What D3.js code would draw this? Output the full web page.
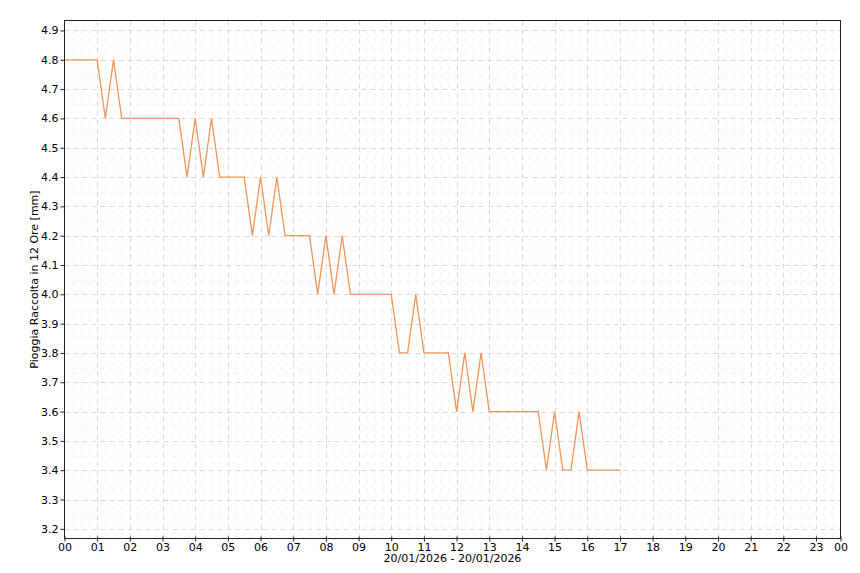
<!DOCTYPE html>
<html>
<head>
<meta charset="utf-8">
<script src="https://cdn.jsdelivr.net/npm/d3@7"></script>
<style>
  body { margin: 0; background: #fff; }
  svg { display: block; }
  text { font-family: "DejaVu Sans", sans-serif; }
</style>
</head>
<body>
<svg id="chart" width="860" height="573"></svg>
<script>
// ---- data (hours of day, values in mm) ----
const times = [
  "00:00","00:15","00:30","00:45","01:00","01:15","01:30","01:45",
  "02:00","02:15","02:30","02:45","03:00","03:15","03:30","03:45",
  "04:00","04:15","04:30","04:45","05:00","05:15","05:30","05:45",
  "06:00","06:15","06:30","06:45","07:00","07:15","07:30","07:45",
  "08:00","08:15","08:30","08:45","09:00","09:15","09:30","09:45",
  "10:00","10:15","10:30","10:45","11:00","11:15","11:30","11:45",
  "12:00","12:15","12:30","12:45","13:00","13:15","13:30","13:45",
  "14:00","14:15","14:30","14:45","15:00","15:15","15:30","15:45",
  "16:00","16:15","16:30","16:45","17:00"
];
const rain = [
  4.8,4.8,4.8,4.8,4.8,4.6,4.8,4.6,
  4.6,4.6,4.6,4.6,4.6,4.6,4.6,4.4,
  4.6,4.4,4.6,4.4,4.4,4.4,4.4,4.2,
  4.4,4.2,4.4,4.2,4.2,4.2,4.2,4.0,
  4.2,4.0,4.2,4.0,4.0,4.0,4.0,4.0,
  4.0,3.8,3.8,4.0,3.8,3.8,3.8,3.8,
  3.6,3.8,3.6,3.8,3.6,3.6,3.6,3.6,
  3.6,3.6,3.6,3.4,3.6,3.4,3.4,3.6,
  3.4,3.4,3.4,3.4,3.4
];
const xTickLabels = ["00","01","02","03","04","05","06","07","08","09","10","11",
                     "12","13","14","15","16","17","18","19","20","21","22","23","00"];
const yTickValues = [3.2,3.3,3.4,3.5,3.6,3.7,3.8,3.9,4.0,4.1,4.2,4.3,4.4,4.5,4.6,4.7,4.8,4.9];
const xDomain = [0, 23.75];
const yDomain = [3.167, 4.934];
const yTitle = "Pioggia Raccolta in 12 Ore [mm]";
const xTitle = "20/01/2026 - 20/01/2026";

// ---- layout ----
const svg = d3.select("#chart");
const mLeft = 64.5, mRight = 840.5, mTop = 20.5, mBottom = 538.5;
const toHours = s => { const [h, m] = s.split(":").map(Number); return h + m / 60; };
const data = times.map((t, i) => ({ x: toHours(t), y: rain[i] }));

const x = d3.scaleLinear().domain(xDomain).range([mLeft, mRight]);
const y = d3.scaleLinear().domain(yDomain).range([mBottom, mTop]);

// tick positions from labels: hour index, last one at domain end
const xTickValues = xTickLabels.map((l, i) => i < xTickLabels.length - 1 ? i : xDomain[1]);

const grid = svg.append("g");
// minor vertical (quarter hours)
const minorX = d3.range(0, xDomain[1] + 0.001, 0.25).filter(v => Math.abs(v - Math.round(v)) > 0.01);
grid.selectAll(".mvx").data(minorX).enter().append("line")
  .attr("x1", d => Math.round(x(d)) + 0.5).attr("x2", d => Math.round(x(d)) + 0.5)
  .attr("y1", mTop).attr("y2", mBottom)
  .attr("stroke", "#f2f2f2").attr("stroke-dasharray", "4,5");
// minor horizontal (half steps)
const minorY = d3.range(3.15, 4.95, 0.1).map(v => +v.toFixed(2)).filter(v => v > yDomain[0] && v < yDomain[1]);
grid.selectAll(".mhy").data(minorY).enter().append("line")
  .attr("x1", mLeft).attr("x2", mRight)
  .attr("y1", d => Math.round(y(d)) + 0.5).attr("y2", d => Math.round(y(d)) + 0.5)
  .attr("stroke", "#f2f2f2").attr("stroke-dasharray", "4,5");
// major vertical
grid.selectAll(".vx").data(xTickValues.slice(1, -1)).enter().append("line")
  .attr("x1", d => Math.round(x(d)) + 0.5).attr("x2", d => Math.round(x(d)) + 0.5)
  .attr("y1", mTop).attr("y2", mBottom)
  .attr("stroke", "#dadada").attr("stroke-dasharray", "5,4");
// major horizontal
grid.selectAll(".hy").data(yTickValues).enter().append("line")
  .attr("x1", mLeft).attr("x2", mRight)
  .attr("y1", d => Math.round(y(d)) + 0.5).attr("y2", d => Math.round(y(d)) + 0.5)
  .attr("stroke", "#dadada").attr("stroke-dasharray", "5,4");

// data line
svg.append("path").datum(data)
  .attr("fill", "none")
  .attr("stroke", "#f3955a")
  .attr("stroke-width", 1.3)
  .attr("d", d3.line().x(d => x(d.x)).y(d => y(d.y)));

// frame
svg.append("rect").attr("x", mLeft).attr("y", mTop)
  .attr("width", mRight - mLeft).attr("height", mBottom - mTop)
  .attr("fill", "none").attr("stroke", "#222").attr("stroke-width", 1);

// axes
const xAxis = d3.axisBottom(x).tickValues(xTickValues)
  .tickFormat((d, i) => xTickLabels[i]).tickSize(4).tickPadding(1);
const gx = svg.append("g").attr("transform", `translate(0,${mBottom})`).call(xAxis);
gx.select(".domain").remove();
gx.selectAll("line").attr("stroke", "#222").attr("y1", -2).attr("y2", 3);
gx.selectAll("text").attr("font-size", 11).attr("fill", "#000")
  .attr("font-family", "DejaVu Sans, sans-serif");

const yAxis = d3.axisLeft(y).tickValues(yTickValues)
  .tickFormat(d3.format(".1f")).tickSize(4).tickPadding(2);
const gy = svg.append("g").attr("transform", `translate(${mLeft},0)`).call(yAxis);
gy.select(".domain").remove();
gy.selectAll("line").attr("stroke", "#222");
gy.selectAll("text").attr("font-size", 11).attr("fill", "#000")
  .attr("font-family", "DejaVu Sans, sans-serif");

// titles
svg.append("text")
  .attr("transform", `translate(38,${(mTop + mBottom) / 2}) rotate(-90)`)
  .attr("text-anchor", "middle").attr("font-size", 11).attr("fill", "#000")
  .text(yTitle);
svg.append("text")
  .attr("x", (mLeft + mRight) / 2).attr("y", 562)
  .attr("text-anchor", "middle").attr("font-size", 11).attr("fill", "#000")
  .text(xTitle);
</script>
</body>
</html>
